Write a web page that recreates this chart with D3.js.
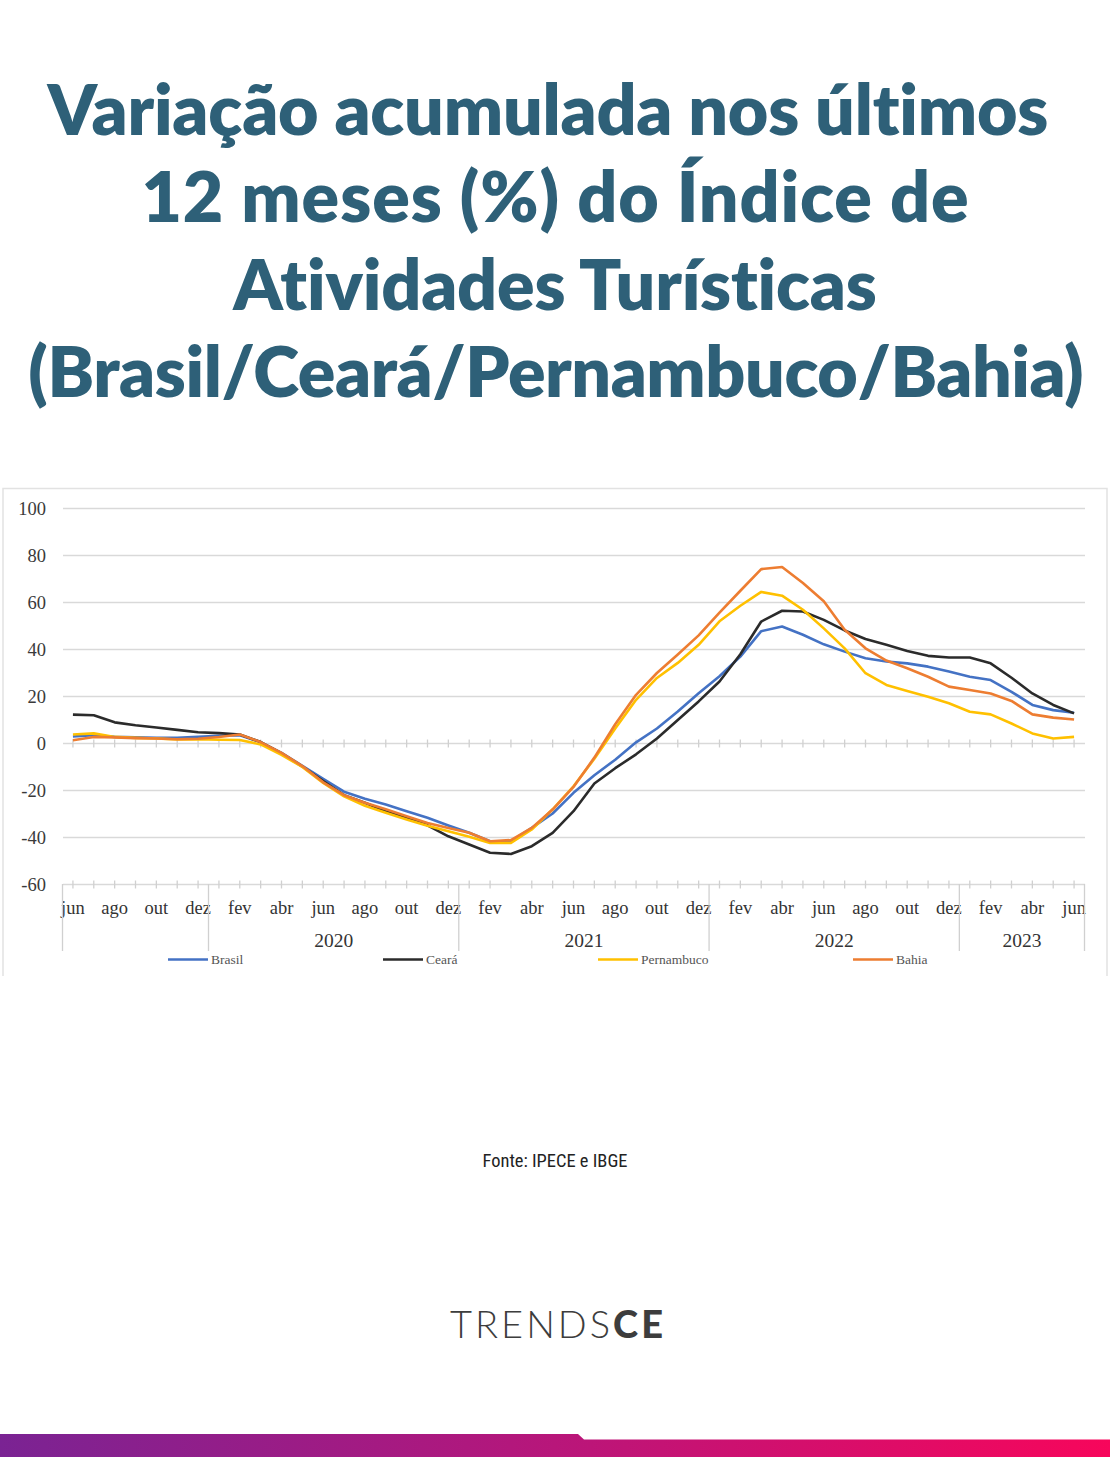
<!DOCTYPE html>
<html><head><meta charset="utf-8">
<script src="https://cdn.jsdelivr.net/npm/d3@7"></script>
<style>
html,body{margin:0;padding:0;background:#fff;}
svg{display:block;}
</style></head>
<body>
<svg id="c" width="1110" height="1457"></svg>
<script>
// ---------- DATA ----------
const titleLines = ["Variação acumulada nos últimos", "12 meses (%) do Índice de", "Atividades Turísticas", "(Brasil/Ceará/Pernambuco/Bahia)"];
const categories = [
  "jun/2019","jul/2019","ago/2019","set/2019","out/2019","nov/2019","dez/2019",
  "jan/2020","fev/2020","mar/2020","abr/2020","mai/2020","jun/2020","jul/2020","ago/2020","set/2020","out/2020","nov/2020","dez/2020",
  "jan/2021","fev/2021","mar/2021","abr/2021","mai/2021","jun/2021","jul/2021","ago/2021","set/2021","out/2021","nov/2021","dez/2021",
  "jan/2022","fev/2022","mar/2022","abr/2022","mai/2022","jun/2022","jul/2022","ago/2022","set/2022","out/2022","nov/2022","dez/2022",
  "jan/2023","fev/2023","mar/2023","abr/2023","mai/2023","jun/2023"
];
const yearLabels = ["", "2020", "2021", "2022", "2023"];
const yTicks = [100, 80, 60, 40, 20, 0, -20, -40, -60];

const brasil = [3, 3.5, 2.8, 2.6, 2.4, 2.4, 2.8, 3.3, 3.5, 0.6, -4, -9.5, -15, -20.5, -23.5, -26, -28.8, -31.6, -34.9, -38, -41.6, -41.6, -35.9, -29.8, -21, -13.5, -6.9, 0.5, 6.4, 13.6, 21.4, 28.6, 37, 47.8, 49.8, 46.3, 42.2, 39.1, 36.3, 34.9, 34.1, 32.7, 30.6, 28.4, 27, 22, 16.4, 14.2, 13.1];
const ceara = [12.3, 12, 9, 7.8, 6.8, 5.8, 4.8, 4.4, 3.8, 0.6, -4.2, -9.8, -16, -22, -25.2, -28.8, -31.6, -34.8, -39.5, -43, -46.5, -47, -43.7, -38, -28.8, -17, -10.5, -4.6, 2.1, 10, 17.9, 26.4, 38, 51.9, 56.5, 56.2, 52.6, 48.1, 44.5, 42, 39.4, 37.3, 36.6, 36.6, 34.1, 28, 21.3, 16.4, 12.8];
const pernambuco = [3.8, 4.3, 2.8, 2.4, 2.1, 1.7, 1.8, 1.6, 1.5, -0.4, -4.8, -10, -16.8, -22.5, -26.5, -29.5, -32.3, -35, -37.3, -39.7, -42.3, -42.3, -36.6, -28, -18.2, -6.5, 6.4, 18.6, 27.9, 34.3, 42, 52, 58.6, 64.5, 62.9, 56.9, 49, 40.5, 29.9, 24.9, 22.3, 19.9, 17.1, 13.5, 12.4, 8.5, 4.3, 2.1, 2.8];
const bahia = [1.4, 2.8, 2.6, 2.3, 2.1, 1.8, 2, 2.8, 3.8, 0.6, -4, -9.6, -16.5, -22, -25.2, -28, -31, -33.8, -36, -38, -41.6, -41.1, -35.9, -28.1, -18.5, -6, 8.2, 20.7, 30, 37.9, 46, 55.7, 65, 74.2, 75.1, 68.3, 60.5, 48.4, 40.5, 35.3, 32, 28.4, 24.2, 22.8, 21.3, 18.1, 12.4, 11, 10.2];

const seriesNames = ["Brasil", "Ceará", "Pernambuco", "Bahia"];
const seriesValues = [brasil, ceara, pernambuco, bahia];
const seriesColors = ["#4472C4", "#2b2b2b", "#FFC000", "#ED7D31"];

// ---------- DRAW ----------
const svg = d3.select("#c");

// Title
const titleColor = "#2e6078";
const titleBase = [135, 222, 310, 397];
const titleCenters = [548, 555, 555, 556];
const titleTargets = [1002, 828, 646, 1055];
const tg = svg.append("g");
const tEls = titleLines.map((t, i) => tg.append("text")
  .attr("x", titleCenters[i]).attr("y", titleBase[i])
  .attr("text-anchor", "middle")
  .attr("font-family", "Lato, 'Open Sans', sans-serif")
  .attr("font-weight", 800)
  .attr("font-size", 70)
  .attr("fill", titleColor)
  .text(t));
let sumM = 0, sumT = 0;
tEls.forEach((e, i) => { sumM += e.node().getComputedTextLength(); sumT += titleTargets[i]; });
const fs = 70 * sumT / sumM;
tEls.forEach((e, i) => {
  e.attr("font-size", fs);
  const w = e.node().getComputedTextLength();
  const n = titleLines[i].length;
  let ls = (titleTargets[i] - w) / n;
  ls = Math.max(-3, Math.min(3, ls));
  e.attr("letter-spacing", ls).attr("x", titleCenters[i] + ls / 2);
});

// Chart frame
svg.append("path").attr("d", "M3,976 L3,488.5 L1107,488.5 L1107,976")
  .attr("fill", "none").attr("stroke", "#e2e2e2").attr("stroke-width", 1.5);

const x = d3.scaleBand().domain(categories).range([62.5, 1084.5]);
const bw = x.bandwidth();
const cx = d => x(d) + bw / 2;
const y = d3.scaleLinear().domain([-60, 100]).range([884.5, 508.5]);

const serif = "'Liberation Serif', 'Times New Roman', serif";

// Gridlines
svg.append("g").selectAll("line").data(yTicks).join("line")
  .attr("x1", 63).attr("x2", 1085)
  .attr("y1", d => y(d)).attr("y2", d => y(d))
  .attr("stroke", "#d9d9d9").attr("stroke-width", 1.4);

// Y axis labels (hyphen-minus as in the original)
const yAxis = d3.axisLeft(y).tickValues(yTicks).tickSize(0).tickPadding(0)
  .tickFormat(d => String(d));
const ya = svg.append("g").attr("transform", "translate(46,0)").call(yAxis);
ya.select(".domain").remove();
ya.selectAll("text").attr("font-family", serif).attr("font-size", 18.5).attr("fill", "#3a3a3a").attr("dy", "0.32em");

// Tick marks on 0 and -60 lines
[0, -60].forEach(v => {
  svg.append("g").selectAll("line").data(categories).join("line")
    .attr("x1", d => cx(d)).attr("x2", d => cx(d))
    .attr("y1", y(v) - 4).attr("y2", y(v) + 4)
    .attr("stroke", "#d0d0d0").attr("stroke-width", 1.3);
});

// Month labels
svg.append("g").selectAll("text").data(categories.filter((d, i) => i % 2 === 0)).join("text")
  .attr("x", d => cx(d)).attr("y", 914)
  .attr("text-anchor", "middle")
  .attr("font-family", serif).attr("font-size", 18.5).attr("fill", "#333")
  .text(d => d.split("/")[0]);

// Year groups
const yearsOrder = [];
categories.forEach(c => { const yr = c.split("/")[1]; if (!yearsOrder.includes(yr)) yearsOrder.push(yr); });
const seps = [];
yearsOrder.forEach((yr, k) => {
  const cs = categories.filter(c => c.split("/")[1] === yr);
  const x0 = x(cs[0]), x1 = x(cs[cs.length - 1]) + bw;
  seps.push(x0);
  if (k === yearsOrder.length - 1) seps.push(x1);
  if (yearLabels[k]) {
    svg.append("text").attr("x", (x0 + x1) / 2).attr("y", 947)
      .attr("text-anchor", "middle").attr("font-family", serif)
      .attr("font-size", 19.5).attr("fill", "#333").text(yearLabels[k]);
  }
});
svg.append("g").selectAll("line").data(seps).join("line")
  .attr("x1", d => d).attr("x2", d => d).attr("y1", 884).attr("y2", 951)
  .attr("stroke", "#d0d0d0").attr("stroke-width", 1.3);

// Series lines
const line = d3.line().x((d, i) => cx(categories[i])).y(d => y(d)).curve(d3.curveLinear);
seriesValues.forEach((vals, s) => {
  svg.append("path").datum(vals).attr("d", line)
    .attr("fill", "none").attr("stroke", seriesColors[s])
    .attr("stroke-width", 2.6).attr("stroke-linejoin", "round");
});

// Legend
const legX = [168, 383, 598, 853];
seriesNames.forEach((n, s) => {
  svg.append("line").attr("x1", legX[s]).attr("x2", legX[s] + 40)
    .attr("y1", 959.5).attr("y2", 959.5).attr("stroke", seriesColors[s]).attr("stroke-width", 2.6);
  svg.append("text").attr("x", legX[s] + 43).attr("y", 964)
    .attr("font-family", serif).attr("font-size", 13.5).attr("fill", "#555").text(n);
});

// Source
const src = svg.append("text").attr("x", 555).attr("y", 1167).attr("text-anchor", "middle")
  .attr("font-family", "'Liberation Sans Narrow', 'Roboto Condensed', Roboto, sans-serif")
  .attr("font-size", 18).attr("fill", "#222").text("Fonte: IPECE e IBGE");
{
  const w = src.node().getComputedTextLength();
  src.attr("font-size", 18 * 145 / w);
}

// Logo
const logo = svg.append("text").attr("x", 450).attr("y", 1338)
  .attr("font-family", "Lato, 'Open Sans', sans-serif").attr("font-size", 38)
  .attr("fill", "#3d3d3d").attr("letter-spacing", 6);
logo.append("tspan").attr("font-weight", 300).text("TRENDS");
logo.append("tspan").attr("font-weight", 900).text("CE");
{
  const w = logo.node().getComputedTextLength();
  const ls = 6 + (216 - w) / 8;
  logo.attr("letter-spacing", ls);
}

// Bottom gradient bar
const defs = svg.append("defs");
const grad = defs.append("linearGradient").attr("id", "gb").attr("x1", "0%").attr("x2", "100%");
grad.append("stop").attr("offset", "0%").attr("stop-color", "#7a2393");
grad.append("stop").attr("offset", "50%").attr("stop-color", "#b8167a");
grad.append("stop").attr("offset", "100%").attr("stop-color", "#f7065b");
svg.append("path")
  .attr("d", "M0,1434 L578,1434 L584,1439.5 L1110,1439.5 L1110,1457 L0,1457 Z")
  .attr("fill", "url(#gb)");
</script>
</body></html>
